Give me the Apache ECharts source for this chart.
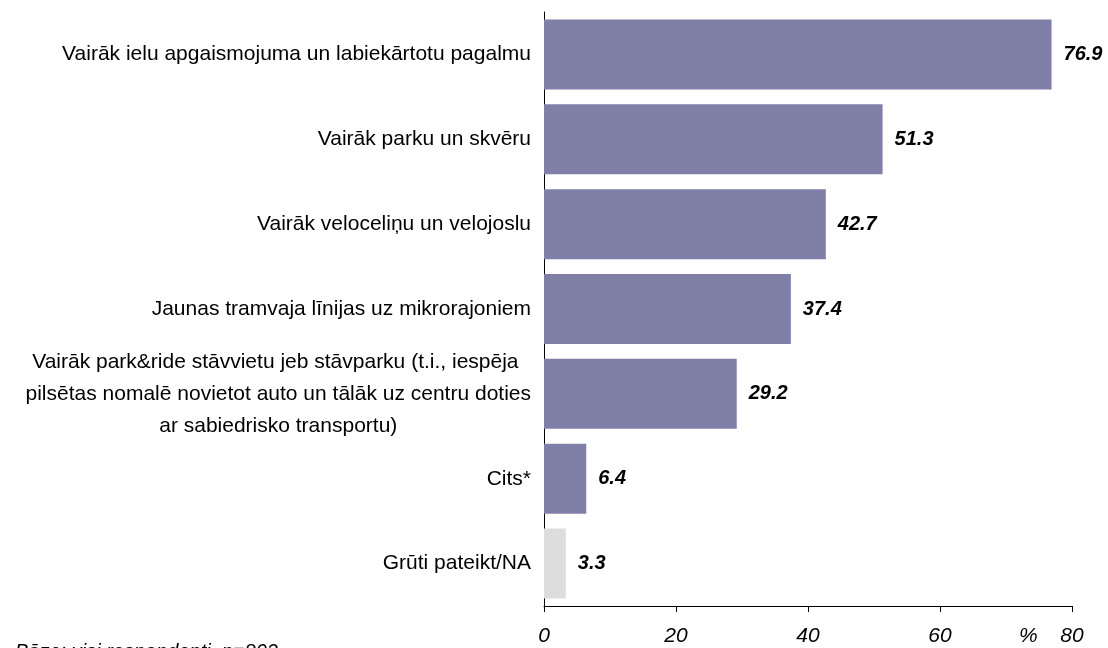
<!DOCTYPE html>
<html>
<head>
<meta charset="utf-8">
<script src="https://cdn.jsdelivr.net/npm/echarts@6/dist/echarts.min.js"></script>
<style>
html, body { margin: 0; padding: 0; background: #FFFFFF; }
#chart { width: 1108px; height: 648px; }
</style>
</head>
<body>
<div id="chart"></div>
<script>
// answers, top to bottom
const categories = [
  'Vairāk ielu apgaismojuma un labiekārtotu pagalmu',
  'Vairāk parku un skvēru',
  'Vairāk veloceliņu un velojoslu',
  'Jaunas tramvaja līnijas uz mikrorajoniem',
  'Vairāk park&ride stāvvietu jeb stāvparku (t.i., iespēja \npilsētas nomalē novietot auto un tālāk uz centru doties\nar sabiedrisko transportu)',
  'Cits*',
  'Grūti pateikt/NA'
]
const values = [76.9, 51.3, 42.7, 37.4, 29.2, 6.4, 3.3]
const barColors = ['#7F7FA8', '#7F7FA8', '#7F7FA8', '#7F7FA8', '#7F7FA8', '#7F7FA8', '#DDDDDD']
const xTicks = [0, 20, 40, 60, 80]
const footnote = 'Bāze: visi respondenti, n=802'

const font = '"Liberation Sans", Arial, sans-serif'
var chartDom = document.getElementById('chart')
var myChart = echarts.init(chartDom, null, { renderer: 'canvas' })
var option

option = {
  animation: false,
  grid: {
    left: 544,
    right: 36,
    top: 12,
    bottom: 42,
    containLabel: false
  },
  title: {
    text: footnote,
    left: 10,
    top: 637,
    textStyle: {
      fontFamily: font,
      fontSize: 20,
      fontStyle: 'italic',
      fontWeight: 'normal',
      color: '#000000'
    }
  },
  graphic: [
    {
      type: 'text',
      left: 1019,
      top: 626,
      style: {
        text: '%',
        font: 'italic 21px ' + font,
        fill: '#000000'
      }
    }
  ],
  xAxis: {
    type: 'value',
    min: xTicks[0],
    max: xTicks[xTicks.length - 1],
    interval: 20,
    axisLine: { show: true, lineStyle: { color: '#000000', width: 1 } },
    axisTick: { show: true, length: 6, lineStyle: { color: '#000000' } },
    splitLine: { show: false },
    axisLabel: {
      margin: 20,
      fontFamily: font,
      fontSize: 21,
      fontStyle: 'italic',
      color: '#000000'
    }
  },
  yAxis: {
    type: 'category',
    inverse: true,
    data: categories,
    axisLine: { show: true, lineStyle: { color: '#000000', width: 1 } },
    axisTick: { show: false },
    axisLabel: {
      margin: 13,
      fontFamily: font,
      fontSize: 21,
      lineHeight: 32,
      align: 'right',
      color: '#000000',
      // long labels are centred line by line, like the original
      formatter: v => v.indexOf('\n') < 0 ? v : v.split('\n').map(l => '{c|' + l + '}').join('\n'),
      rich: {
        c: {
          align: 'center',
          fontFamily: font,
          fontSize: 21,
          lineHeight: 32,
          color: '#000000'
        }
      }
    }
  },
  series: [
    {
      type: 'bar',
      data: values.map((v, i) => ({ value: v, itemStyle: { color: barColors[i] } })),
      barWidth: 70,
      label: {
        show: true,
        position: 'right',
        distance: 12,
        fontFamily: font,
        fontSize: 20,
        fontWeight: 'bold',
        fontStyle: 'italic',
        color: '#000000',
        formatter: p => p.value.toFixed(1)
      }
    }
  ]
}
option && myChart.setOption(option)
</script>
</body>
</html>
